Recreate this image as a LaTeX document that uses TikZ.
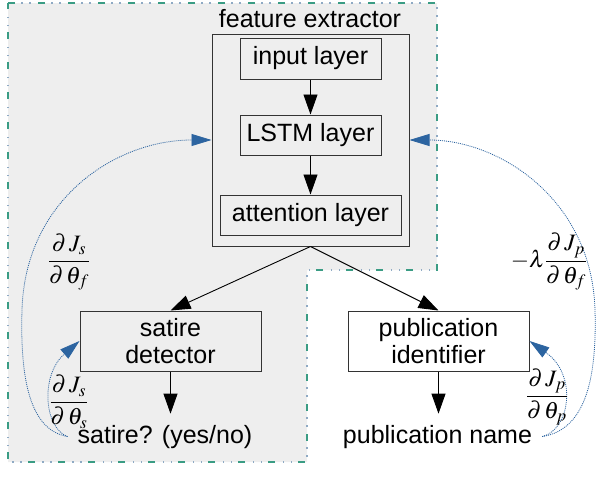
\documentclass[tikz,border=0pt]{standalone}
\usepackage{mathptmx}
\usepackage{fontspec}
\setmainfont{Liberation Sans}
\usetikzlibrary{arrows.meta, calc}
\definecolor{bggray}{HTML}{EEEEEE}
\definecolor{dashgreen}{HTML}{3A9C84}
\definecolor{dotblue}{HTML}{8FAAC4}
\definecolor{gradblue}{HTML}{2C64A0}
\newcommand\extractarea{(8,3) -- (437,3) -- (437,270) -- (307,270) -- (307,462) -- (8,462) -- cycle}

\begin{document}
\begin{tikzpicture}[x=1pt, y=-1pt,
  box/.style={draw=black!80, line width=1pt, inner sep=0pt, align=center, font=\fontsize{25}{27}\selectfont},
  lbl/.style={font=\fontsize{25}{27}\selectfont, inner xsep=10pt, inner ysep=11pt},
  flow/.style={line width=0.9pt, -{Triangle[length=20pt,width=14pt]}},
  grad/.style={gradblue, line width=0.8pt, dash pattern=on 1pt off 1pt, -{Triangle[length=20pt,width=12pt]}},
  frac/.style={font=\fontsize{23.5}{27}\selectfont, inner sep=0pt}]
\useasboundingbox (0,0) rectangle (598,498);
% shaded extractor area
\fill[bggray] \extractarea;
\draw[dashgreen, line width=1.5pt, dash pattern=on 7pt off 23pt] \extractarea;
\draw[dotblue, line width=1.2pt, dash pattern=on 0pt off 13pt on 1.5pt off 6.5pt on 1.5pt off 7.5pt] \extractarea;

\node[box, minimum width=197pt, minimum height=212pt] (feat) at (310.5,140) {};
\node[lbl, anchor=base, inner sep=0pt] (feattitle) at (310,27) {feature extractor};
\node[box, minimum width=141pt, minimum height=41pt] (input) at (310.5,58.5) {input layer};
\node[box, minimum width=141pt, minimum height=40pt] (lstm) at (310.5,135) {LSTM layer};
\node[box, minimum width=181pt, minimum height=40pt] (att) at (310.5,215) {attention layer};

\node[box, minimum width=181pt, minimum height=60pt] (sat) at (170.5,341) {satire\\detector};
\node[box, minimum width=181pt, minimum height=60pt] (pub) at (438.5,341) {publication\\identifier};
\node[lbl, anchor=base] (satout) at (165,443) {satire? (yes/no)};
\node[lbl, anchor=base] (pubout) at (437.5,443) {publication name};

\draw[flow] (input) -- (lstm); \draw[flow] (lstm) -- (att);
\draw[flow] (feat.south) -- (sat.north); \draw[flow] (feat.south) -- (pub.north);
\draw[flow] (sat.south) -- (sat.south |- satout.north); \draw[flow] (pub.south) -- (pub.south |- pubout.north);

% gradients flowing back
\draw[grad] (satout.west) .. controls (30,430) and (20,380) .. (22,310) .. controls (25,200) and (115,140) .. (feat.west);
\draw[grad] (satout.west) .. controls (44,428) and (40,375) .. (sat.west);
\draw[grad] (pubout.east) .. controls (585,430) and (597,380) .. (595,310) .. controls (592,200) and (500,140) .. (feat.east);
\draw[grad] (pubout.east) .. controls (570,430) and (578,375) .. (pub.east);

\node[frac] (gsf) at (69,262) {$\displaystyle\frac{\partial\,J_s}{\partial\,\theta_f}$};
\node[frac] (gss) at (69,402) {$\displaystyle\frac{\partial\,J_s}{\partial\,\theta_s}$};
\node[frac] (gpf) at (549,262) {$-\lambda\displaystyle\frac{\partial\,J_p}{\partial\,\theta_f}$};
\node[frac] (gpp) at (547,397) {$\displaystyle\frac{\partial\,J_p}{\partial\,\theta_p}$};
\end{tikzpicture}
\end{document}
